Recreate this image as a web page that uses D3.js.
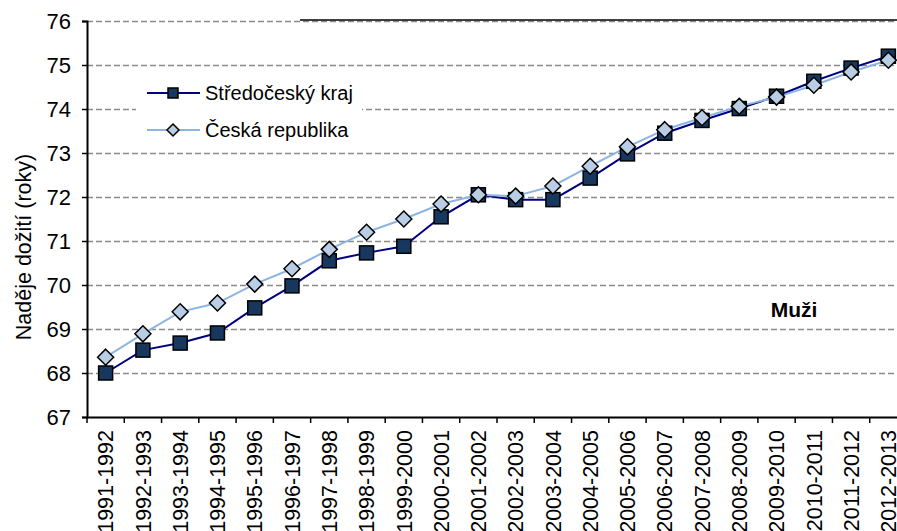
<!DOCTYPE html>
<html>
<head>
<meta charset="utf-8">
<script src="https://cdn.jsdelivr.net/npm/d3@7"></script>
<style>
  body { margin: 0; background: #fff; }
  svg { display: block; font-family: "Liberation Sans", Arial, sans-serif; }
</style>
</head>
<body>
<svg width="897" height="531"></svg>
<script>
  const periods = ['1991-1992', '1992-1993', '1993-1994', '1994-1995', '1995-1996', '1996-1997',
    '1997-1998', '1998-1999', '1999-2000', '2000-2001', '2001-2002', '2002-2003', '2003-2004',
    '2004-2005', '2005-2006', '2006-2007', '2007-2008', '2008-2009', '2009-2010', '2010-2011',
    '2011-2012', '2012-2013'];

  const stredocesky = [68.0, 68.52, 68.68, 68.91, 69.48, 69.98, 70.55, 70.73, 70.88, 71.55, 72.05,
    71.94, 71.94, 72.43, 72.98, 73.45, 73.74, 74.01, 74.29, 74.63, 74.93, 75.2];

  const ceskaRepublika = [68.36, 68.89, 69.39, 69.59, 70.02, 70.37, 70.81, 71.2, 71.5, 71.84, 72.05,
    72.02, 72.25, 72.7, 73.14, 73.53, 73.8, 74.06, 74.27, 74.54, 74.84, 75.11];

  const yTicks = [67, 68, 69, 70, 71, 72, 73, 74, 75, 76];

  const seriesNames = ['Středočeský kraj', 'Česká republika'];

  const svg = d3.select('svg');

  const plotLeft = 87, plotRight = 907, plotTop = 21, plotBottom = 417;

  const x = d3.scaleBand().domain(periods).range([plotLeft, plotRight]);
  const y = d3.scaleLinear().domain([67, 76]).range([plotBottom, plotTop]);

  // grid
  svg.append('g')
    .selectAll('line')
    .data(yTicks.filter(d => d > 67))
    .join('line')
      .attr('x1', plotLeft)
      .attr('x2', 897)
      .attr('y1', d => y(d) + 0.5)
      .attr('y2', d => y(d) + 0.5)
      .attr('stroke', '#8a8a8a')
      .attr('stroke-width', 1.6)
      .attr('stroke-dasharray', '6,3');

  svg.append('line')
      .attr('x1', 300).attr('x2', 897)
      .attr('y1', plotTop - 1).attr('y2', plotTop - 1)
      .attr('stroke', '#000').attr('stroke-width', 1.5);

  // y axis
  const yAxis = svg.append('g')
      .attr('transform', `translate(${plotLeft},0)`)
      .call(d3.axisLeft(y).tickValues(yTicks).tickSize(5).tickPadding(11).tickFormat(d3.format('d')));
  yAxis.select('.domain').attr('stroke-width', 2);
  yAxis.selectAll('.tick line').attr('stroke-width', 1.5);
  yAxis.selectAll('text').attr('font-size', 22).attr('fill', '#000');

  // x axis
  const xAxis = svg.append('g')
      .attr('transform', `translate(0,${plotBottom})`)
      .call(d3.axisBottom(x).tickSize(0).tickSizeOuter(0));
  xAxis.select('.domain').attr('stroke-width', 2);
  xAxis.selectAll('text')
      .attr('font-size', 21.5)
      .attr('fill', '#000')
      .attr('transform', 'rotate(-90)')
      .attr('text-anchor', 'end')
      .attr('dy', '0.36em')
      .attr('x', -13)
      .attr('y', 0);

  xAxis.selectAll('.boundary')
    .data(periods)
    .join('line')
      .attr('class', 'boundary')
      .attr('x1', d => x(d))
      .attr('x2', d => x(d))
      .attr('y1', 0)
      .attr('y2', 6)
      .attr('stroke', '#000')
      .attr('stroke-width', 1.5);

  // y title
  svg.append('text')
      .attr('transform', 'translate(31,247) rotate(-90)')
      .attr('text-anchor', 'middle')
      .attr('font-size', 21.5)
      .text('Naděje dožití (roky)');

  const cx = d => x(d) + x.bandwidth() / 2;

  const diamond = s => `M0,${-s}L${s},0L0,${s}L${-s},0Z`;

  function drawLine(values, color) {
    svg.append('path')
      .datum(values)
      .attr('fill', 'none')
      .attr('stroke', color)
      .attr('stroke-width', 2)
      .attr('d', d3.line().x((d, i) => cx(periods[i])).y(d => y(d)));
  }

  drawLine(stredocesky, '#000080');
  drawLine(ceskaRepublika, '#8db4e2');

  svg.append('g')
    .selectAll('rect')
    .data(stredocesky)
    .join('rect')
      .attr('x', (d, i) => cx(periods[i]) - 7)
      .attr('y', d => y(d) - 7)
      .attr('width', 14)
      .attr('height', 14)
      .attr('fill', '#17375e')
      .attr('stroke', '#000')
      .attr('stroke-width', 1.5);

  svg.append('g')
    .selectAll('path')
    .data(ceskaRepublika)
    .join('path')
      .attr('transform', (d, i) => `translate(${cx(periods[i])},${y(d)})`)
      .attr('d', diamond(8))
      .attr('fill', '#b9cde5')
      .attr('stroke', '#000')
      .attr('stroke-width', 1.5);

  // legend
  const legend = svg.append('g');
  legend.append('rect')
      .attr('x', 136).attr('y', 74).attr('width', 226).attr('height', 74)
      .attr('fill', '#fff');

  const rows = legend.selectAll('g.row')
    .data(seriesNames)
    .join('g')
      .attr('class', 'row')
      .attr('transform', (d, i) => `translate(0,${i ? 130 : 93})`);

  rows.append('line')
      .attr('x1', 147).attr('x2', 200)
      .attr('stroke', (d, i) => i ? '#8db4e2' : '#000080')
      .attr('stroke-width', 2);

  rows.filter((d, i) => i === 0).append('rect')
      .attr('x', 168).attr('y', -5).attr('width', 10).attr('height', 10)
      .attr('fill', '#17375e').attr('stroke', '#000').attr('stroke-width', 1.5);

  rows.filter((d, i) => i === 1).append('path')
      .attr('transform', 'translate(173,0)')
      .attr('d', diamond(6))
      .attr('fill', '#b9cde5').attr('stroke', '#000').attr('stroke-width', 1.5);

  rows.append('text')
      .attr('x', 205)
      .attr('dy', '0.36em')
      .attr('font-size', 20)
      .text(d => d);

  svg.append('text')
      .attr('x', 794)
      .attr('y', 317)
      .attr('text-anchor', 'middle')
      .attr('font-size', 21)
      .attr('font-weight', 'bold')
      .text('Muži');
</script>
</body>
</html>
